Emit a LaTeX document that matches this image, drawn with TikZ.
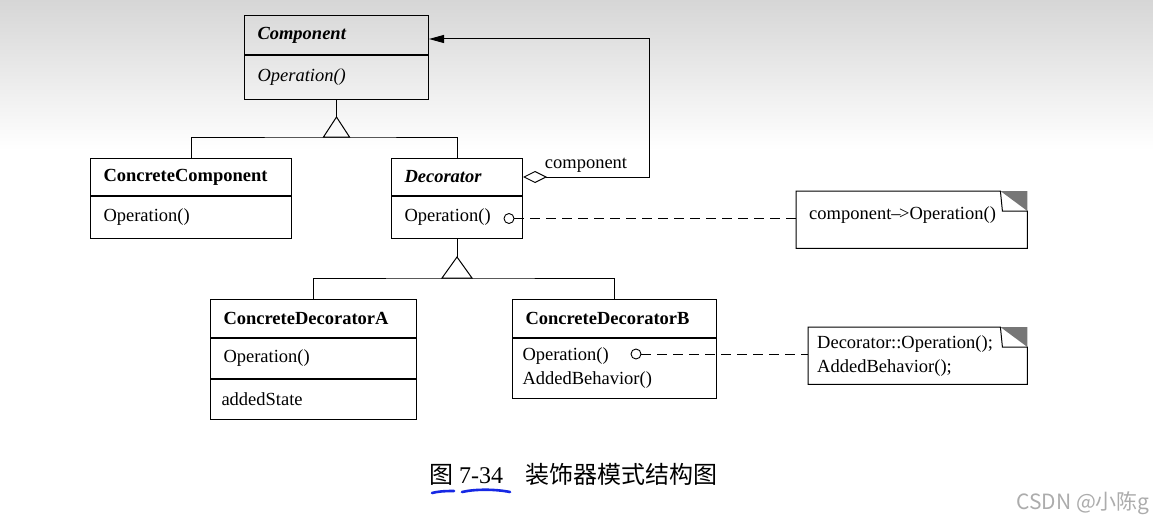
\documentclass[tikz,border=0pt]{standalone}
\usepackage{fontspec}
\setmainfont{Liberation Serif}
\newfontfamily\cjk{Noto Sans CJK SC}
\usetikzlibrary{arrows.meta,positioning,calc}
\definecolor{foldgray}{RGB}{118,118,118}
\definecolor{inkblue}{RGB}{22,40,228}
\definecolor{wmgray}{RGB}{172,172,172}
\definecolor{topgray}{RGB}{214,214,214}
\newcommand\partfont{\fontsize{18.5}{24}\selectfont}
\tikzset{%
  classpart/.style={
    draw,
    rectangle,
    line width=1pt,
    align=left,
    inner xsep=13pt,
    inner ysep=0pt,
    font=\partfont
  },
  classname/.style={
    classpart,
    font=\partfont\bfseries
  },
  abstractname/.style={
    classpart,
    font=\partfont\bfseries\itshape
  },
  notebox/.style={
    rectangle,
    align=left,
    inner xsep=13pt,
    inner ysep=0pt,
    anchor=north west,
    minimum height=57pt,
    font=\partfont
  },
  opport/.style={
    circle,
    draw,
    line width=0.9pt,
    fill=white,
    inner sep=0pt,
    minimum size=10pt
  },
  umlline/.style={
    line width=1pt
  },
  dashline/.style={
    line width=#1,
    dash pattern=on 10pt off 6pt
  },
}

\begin{document}
\begin{tikzpicture}[x=1pt, y=-1pt]

\useasboundingbox (0,0) rectangle (1153,524);
\shade[top color=topgray, bottom color=white] (0,0) rectangle (1153,150);

% classes
\node [abstractname, text width=158pt, minimum height=39pt, anchor=north west] (comptitle) at (244,15) {Component};
\node [classpart, text width=158pt, minimum height=44pt, below=0pt of comptitle] (compops) {\itshape Operation()};

\node [classname, text width=175pt, minimum height=37pt, anchor=north west] (cctitle) at (90,158) {ConcreteComponent};
\node [classpart, text width=175pt, minimum height=42pt, below=0pt of cctitle] (ccops) {Operation()};

\node [abstractname, text width=105pt, minimum height=37pt, anchor=north west] (dectitle) at (391,158) {Decorator};
\node [classpart, text width=105pt, minimum height=42pt, below=0pt of dectitle] (decops) {Operation()};

\node [classname, text width=180pt, minimum height=38pt, anchor=north west] (cdatitle) at (210,299) {ConcreteDecoratorA};
\node [classpart, text width=180pt, minimum height=40pt, below=0pt of cdatitle] (cdaops) {Operation()};
\node [classpart, text width=184pt, inner xsep=11pt, minimum height=40pt, below=0pt of cdaops] (cdastate) {addedState};

\node [classname, text width=178pt, minimum height=38pt, anchor=north west] (cdbtitle) at (512,299) {ConcreteDecoratorB};
\node [classpart, text width=184pt, inner xsep=10pt, minimum height=60pt, below=0pt of cdbtitle] (cdbops) {Operation()\\AddedBehavior()};

% notes
\node [notebox, text width=205pt, minimum width=231pt, text depth=13pt] (note1) at (796,191) {component\textendash\kern-1.5pt>Operation()};
\node [notebox, text width=201pt, inner xsep=9pt, minimum width=219pt] (note2) at (808,327) {Decorator::Operation();\\AddedBehavior();};

\foreach \n in {note1,note2}{
  \fill [foldgray] ($(\n.north east)+(-27,0)$) -- (\n.north east) -- ($(\n.north east)+(0,20)$) -- cycle;
  \draw [umlline] ($(\n.north east)+(-27,0)$) -- (\n.north west) -- (\n.south west) -- (\n.south east)
    -- ($(\n.north east)+(0,20)$) -- ++(-25,0) -- cycle;
}

% generalisation
\draw [umlline] (compops.south) -- ++(0,17) coordinate (gen1);
\draw [umlline] (gen1) -- ++(-13,20) -- ++(26,0) -- cycle;
\draw [umlline] (cctitle.north) |- ($(gen1)+(0,20)$) -| (dectitle.north);

\draw [umlline] (decops.south) -- ++(0,18) coordinate (gen2);
\draw [umlline] (gen2) -- ++(-15,21) -- ++(30,0) -- cycle;
\draw [umlline] (cdatitle.north) |- ($(gen2)+(0,21)$) -| (cdbtitle.north);

% aggregation
\draw [umlline, {Diamond[open, length=24pt, width=12pt, line width=1pt]}-{Triangle[length=15pt, width=8pt]}]
  (dectitle.east) -- node [above, font=\partfont, inner sep=4pt] (agglabel) {component} ++(126,0) |- ($(comptitle.east)+(0,4)$);

% implementation notes
\node [opport] (decport) at ($(decops.east)+(-14,1)$) {};
\node [opport] (cdbport) at (636,354) {};
\draw [dashline=1.7pt] (decport.east) -- (decport.east -| note1.west);
\draw [dashline=0.9pt] (cdbport.east) -- (cdbport.east -| note2.west);

% caption
\node [anchor=west, inner sep=0pt, font=\fontsize{24}{28}\selectfont] (caption) at (429,474)
  {{\cjk 图} 7-34\hspace{22pt}{\cjk 装饰器模式结构图}};
\draw [inkblue, line width=2.6pt, line cap=round] (432,493) .. controls (440,491) and (448,491) .. (454,491);
\draw [inkblue, line width=2.6pt, line cap=round] (462,492) .. controls (475,489) and (495,489) .. (510,492);

\node [anchor=east, inner sep=0pt, text=wmgray, font=\cjk\fontsize{21}{24}\selectfont] (watermark) at (1150,503) {CSDN @小陈g};

\end{tikzpicture}
\end{document}
